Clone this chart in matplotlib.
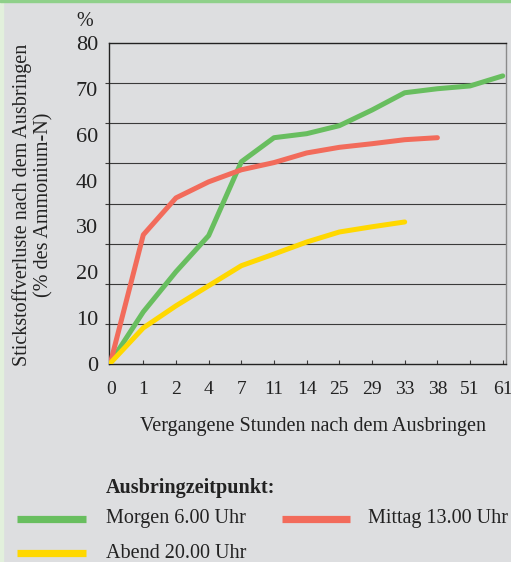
import matplotlib
matplotlib.use("Agg")
import matplotlib.pyplot as plt
import numpy as np
from matplotlib.patches import Rectangle
from matplotlib.lines import Line2D

plt.rcParams['font.family'] = ['Liberation Serif', 'DejaVu Serif']

hours = ["0", "1", "2", "4", "7", "11", "14", "25", "29", "33", "38", "51", "61"]
morgen = [0.5, 13, 23, 32, 50.4, 56.4, 57.4, 59.4, 63.3, 67.6, 68.6, 69.3, 71.8]
mittag = [0.5, 32.2, 41.4, 45.4, 48.4, 50.2, 52.6, 54.0, 54.9, 55.9, 56.4]
abend = [0.3, 9, 14.5, 19.5, 24.5, 27.4, 30.4, 32.9, 34.2, 35.4]
y_tick_labels = ["0", "10", "20", "30", "40", "60", "70", "80"]
grid_values = [0, 10, 20, 30, 40, 50, 60, 70, 80]

c_green = "#68be5f"
c_red = "#f26b5b"
c_yellow = "#ffd800"
bg = "#dddee0"
txt = "#222222"
FS = 14.5

W, H = 511, 562
fig = plt.figure(figsize=(W/100, H/100), dpi=100, facecolor=bg)
fig.patches.append(Rectangle((0, 0), 3/W, 1, transform=fig.transFigure, color="#e2f0dc", zorder=0))
fig.patches.append(Rectangle((0, 1-2/H), 1, 2/H, transform=fig.transFigure, color="#8fd08a", zorder=0))

ax = fig.add_axes([109/W, 1-364/H, (506-109)/W, (364-43)/H])
ax.set_facecolor(bg)

ax.plot(hours, morgen, color=c_green, lw=3.6, solid_capstyle='round', zorder=3)
ax.plot(hours[:len(mittag)], mittag, color=c_red, lw=3.6, solid_capstyle='round', zorder=3)
ax.plot(hours[:len(abend)], abend, color=c_yellow, lw=3.6, solid_capstyle='round', zorder=4)

ax.set_xlim(-0.05, len(hours)-1+0.1)
ax.set_ylim(0, 80)

ax.set_yticks(grid_values, minor=True)
ax.set_yticks(np.linspace(0, 80, len(y_tick_labels)))
ax.set_yticklabels(y_tick_labels)
ax.yaxis.grid(True, which='minor', color="#3a3a3a", lw=0.8)
ax.tick_params(axis='y', which='major', length=0, pad=8, labelsize=16, labelcolor=txt)
ax.tick_params(axis='y', which='minor', length=3, width=0.8, direction='out', color="#3a3a3a")
ax.tick_params(axis='x', which='major', length=3, width=0.8, direction='in', pad=12.5,
               labelsize=14, labelcolor=txt, color="#3a3a3a")

for s in ['left', 'bottom', 'top']:
    ax.spines[s].set_color(txt)
    ax.spines[s].set_linewidth(1.0)
ax.spines['right'].set_color("#8a8a8a")
ax.spines['right'].set_linewidth(1.0)

fig.text(22/W, 1-205/H, "Stickstoffverluste nach dem Ausbringen", rotation=90,
         ha='center', va='center', fontsize=FS, color=txt)
fig.text(44/W, 1-205/H, "(% des Ammonium-N)", rotation=90,
         ha='center', va='center', fontsize=FS, color=txt)
fig.text(85/W, 1-22/H, "%", ha='center', va='center', fontsize=FS, color=txt)
fig.text(313/W, 1-427/H, "Vergangene Stunden nach dem Ausbringen", ha='center', va='center',
         fontsize=FS, color=txt)

fig.text(106/W, 1-488/H, "Ausbringzeitpunkt:", ha='left', va='center', fontsize=FS,
         fontweight='bold', color=txt)
legend_items = [("Morgen 6.00 Uhr", c_green, 17, 86, 106, 519),
                ("Mittag 13.00 Uhr", c_red, 282, 350, 368, 519),
                ("Abend 20.00 Uhr", c_yellow, 17, 86, 106, 553)]
for label, col, x0, x1, tx, y in legend_items:
    fig.add_artist(Line2D([x0/W, x1/W], [1-y/H, 1-y/H], transform=fig.transFigure,
                          color=col, lw=5.2, solid_capstyle='butt'))
    fig.text(tx/W, 1-y/H, label, ha='left', va='center', fontsize=FS, color=txt)

fig.savefig("out.png", dpi=100, facecolor=bg)
